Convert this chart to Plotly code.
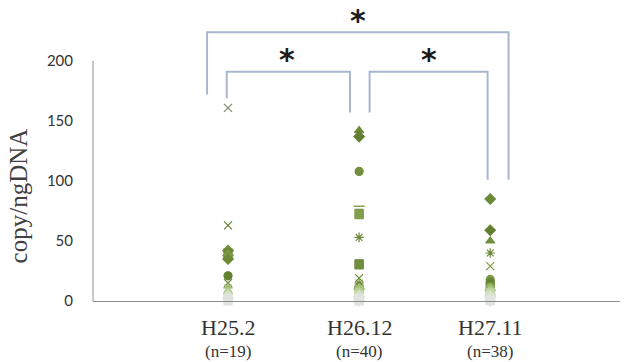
import plotly.graph_objects as go

# ---- data ----
categories = ["H25.2", "H26.12", "H27.11"]
n_labels = ["(n=19)", "(n=40)", "(n=38)"]
h25_2 = [161, 63, 42, 40, 38, 36, 35, 21, 15, 11, 8, 6, 4, 3, 2, 1.5, 1, 0.5, 0]
h26_12 = [142, 137, 108, 79, 73, 72, 53, 31, 30, 19,
          15, 13, 12, 11, 10, 9, 8, 7, 6, 5,
          4.5, 4, 3.5, 3, 2.5, 2, 1.8, 1.5, 1.2, 1,
          0.8, 0.6, 0.5, 0.4, 0.3, 0.2, 0.1, 0.05, 0, 0]
h27_11 = [85, 59, 50, 40, 29, 18, 16, 14, 12, 11,
          10, 9, 8, 7, 6, 5.5, 5, 4.5, 4, 3.5,
          3, 2.5, 2, 1.8, 1.5, 1.2, 1, 0.9, 0.8, 0.6,
          0.5, 0.4, 0.3, 0.2, 0.1, 0.05, 0, 0]
groups = [h25_2, h26_12, h27_11]
y_ticks = [0, 50, 100, 150, 200]

# ---- styles (per point, by rank) ----
sym_g1 = ["x-thin-open", "x-thin-open", "diamond", "square", "diamond", "circle", "diamond",
          "circle", "x-thin-open", "asterisk-open", "triangle-up", "triangle-up", "circle",
          "triangle-up", "diamond", "circle", "square", "circle", "square"]
sym_g2 = ["triangle-up", "diamond", "circle", "line-ew-open", "square", "square", "asterisk-open",
          "square", "square", "x-thin-open", "asterisk-open", "triangle-up", "circle", "x-thin-open",
          "diamond", "square", "asterisk-open", "circle", "triangle-up", "square"] * 2
sym_g3 = ["diamond", "diamond", "triangle-up", "asterisk-open", "x-thin-open", "circle", "circle",
          "circle", "square", "circle", "triangle-up", "diamond", "circle", "square", "circle",
          "x-thin-open", "diamond", "triangle-up", "circle"] * 2
symbols = [sym_g1, sym_g2, sym_g3]
dark_cols = ["#6c8a38", "#637f30", "#728f3e", "#6b8737", "#7a9845", "#819e4c"]
light_cols = ["#8eaf5d", "#a2c074", "#b6cf92", "#c9dbb0", "#d7e2ca", "#e1e4de"]

fig = go.Figure()
for gi, vals in enumerate(groups):
    n = len(vals)
    cols = []
    for i, v in enumerate(vals):
        if v >= 12:
            cols.append(dark_cols[i % len(dark_cols)])
        else:
            k = min(int((12 - v) / 12 * len(light_cols)), len(light_cols) - 1)
            cols.append(light_cols[k])
    if gi == 0:
        cols[0] = "#7c8c63"
    fig.add_trace(go.Scatter(
        x=[gi + 1] * n, y=vals, mode="markers",
        marker=dict(symbol=symbols[gi][:n], color=cols, size=8,
                    line=dict(color=cols, width=1.2)),
        showlegend=False, cliponaxis=False))

shapes = []
shapes.append(dict(type="line", xref="paper", yref="y", x0=0, x1=0, y0=0, y1=200,
                   line=dict(color="#8c8c8c", width=1)))
bcol = "#a9b6cf"
shapes.append(dict(type="path", xref="x", yref="y",
                   path="M 0.84 172 L 0.84 224 L 3.14 224 L 3.14 101",
                   line=dict(color=bcol, width=2)))
shapes.append(dict(type="path", xref="x", yref="y",
                   path="M 0.99 169 L 0.99 191 L 1.93 191 L 1.93 157",
                   line=dict(color=bcol, width=2)))
shapes.append(dict(type="path", xref="x", yref="y",
                   path="M 2.08 157 L 2.08 191 L 2.98 191 L 2.98 101",
                   line=dict(color=bcol, width=2)))

annotations = []
for (xa, ya) in [(1.99, 234), (1.45, 201), (2.53, 201)]:
    annotations.append(dict(x=xa, y=ya, xref="x", yref="y", text="<b>*</b>",
                            showarrow=False, font=dict(size=30, color="#1a1a1a",
                                                       family="DejaVu Sans"),
                            yanchor="middle"))
annotations.append(dict(x=-0.142, y=0.36, xref="paper", yref="paper",
                        text="copy/ngDNA", textangle=-90, showarrow=False,
                        xanchor="center", yanchor="middle",
                        font=dict(size=25, color="#404040", family="Liberation Serif")))
for i, (c, nl) in enumerate(zip(categories, n_labels)):
    annotations.append(dict(x=i + 1, y=-0.09, xref="x", yref="paper", text=c,
                            showarrow=False, yanchor="middle",
                            font=dict(size=22, color="#333333", family="Liberation Serif")))
    annotations.append(dict(x=i + 1, y=-0.175, xref="x", yref="paper", text=nl,
                            showarrow=False, yanchor="middle",
                            font=dict(size=17, color="#333333", family="Liberation Serif")))

fig.update_layout(
    width=626, height=362,
    margin=dict(l=93, r=6, t=10, b=61, autoexpand=False),
    paper_bgcolor="white", plot_bgcolor="white",
    shapes=shapes, annotations=annotations,
    xaxis=dict(range=[-0.03, 3.99], tickvals=[1, 2, 3], showticklabels=False,
               showgrid=False, zeroline=False, showline=True, automargin=False,
               linecolor="#8c8c8c", linewidth=1, ticks=""),
    yaxis=dict(range=[0, 242.5], tickvals=y_ticks, showgrid=False, zeroline=False,
               showline=False, ticks="", ticklabelstandoff=19, automargin=False,
               tickfont=dict(family="Lato", size=15, color="#333333")),
)

fig.write_html("out.html", config={"displayModeBar": False},
               post_script="document.body.style.margin='0';")
